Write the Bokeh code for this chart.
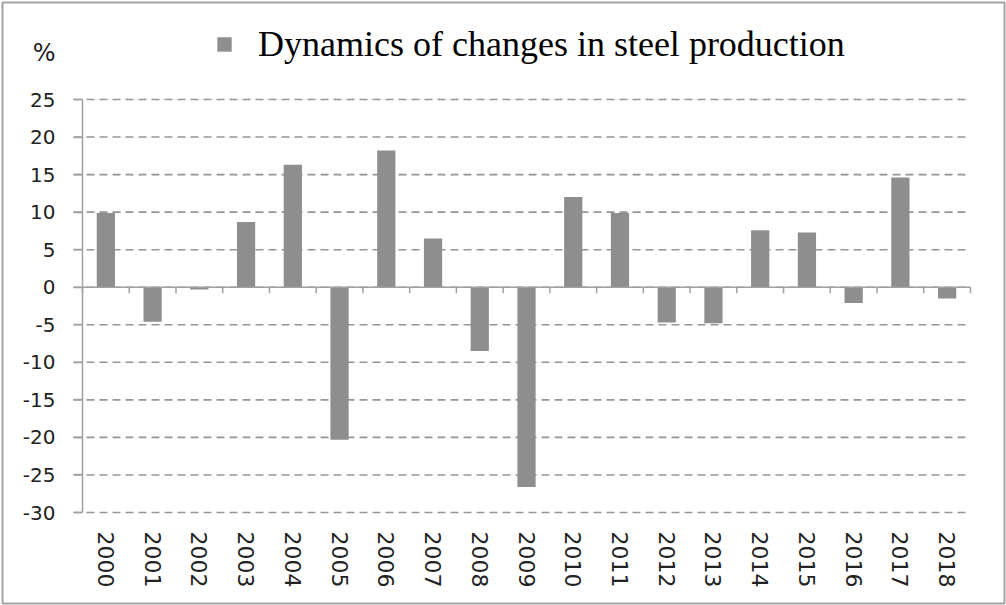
from bokeh.plotting import figure
from bokeh.models import (Range1d, FixedTicker, Label, Legend, LegendItem,
                          ColumnDataSource)
from bokeh.embed import file_html
from bokeh.resources import INLINE

years = ["2000", "2001", "2002", "2003", "2004", "2005", "2006", "2007", "2008", "2009",
         "2010", "2011", "2012", "2013", "2014", "2015", "2016", "2017", "2018"]
changes = [9.9, -4.6, -0.3, 8.7, 16.3, -20.3, 18.2, 6.5, -8.5, -26.6,
           12.0, 9.9, -4.7, -4.8, 7.6, 7.3, -2.1, 14.6, -1.5]
y_ticks = [-30, -25, -20, -15, -10, -5, 0, 5, 10, 15, 20, 25]
series_name = "Dynamics of changes in steel production"
unit_label = "%"

# ---- layout (pixels) ----
W, H, B = 1006, 605, 2                      # canvas and outer border inset
AX_LEFT, AX_RIGHT, AX_TOP, AX_BOTTOM = 82, 970, 99, 512

n = len(years)
xs = list(range(n))
ymin, ymax = y_ticks[0], y_ticks[-1]
px_x = (AX_RIGHT - AX_LEFT) / n
px_y = (AX_BOTTOM - AX_TOP) / (ymax - ymin)
x_lo, x_hi = -0.5, n - 0.5

src = ColumnDataSource(dict(x=xs, top=changes, year=years))

p = figure(width=W, height=H, output_backend="svg", toolbar_location=None,
           x_range=Range1d(x_lo - (AX_LEFT - B) / px_x, x_hi + (W - B - AX_RIGHT) / px_x),
           y_range=Range1d(ymin - (H - B - AX_BOTTOM) / px_y, ymax + (AX_TOP - B) / px_y),
           min_border_left=B, min_border_right=B, min_border_top=B,
           min_border_bottom=B)
p.outline_line_color = "#a3a3a3"
p.outline_line_width = 2
p.xgrid.visible = False
p.ygrid.visible = False

# dashed horizontal grid lines over the plotting area
p.segment(x0=[x_lo - 9 / px_x] * len(y_ticks), x1=[x_hi] * len(y_ticks),
          y0=y_ticks, y1=y_ticks, line_color="#969696", line_width=1.6,
          line_dash="8 5")

# bars
r = p.vbar(x="x", top="top", bottom=0, width=0.39, source=src,
           fill_color="#8e8e8e", line_color=None)

# zero (category) line with boundary ticks
bounds = [i - 0.5 for i in range(n + 1)]
p.segment(x0=[x_lo], x1=[x_hi], y0=[0], y1=[0], line_color="#a0a0a0", line_width=1.5)
p.segment(x0=bounds, y0=[0] * len(bounds), x1=bounds, y1=[-6 / px_y] * len(bounds),
          line_color="#a0a0a0", line_width=1.5)

# y axis, drawn at the left edge of the plotting area
ya = p.yaxis[0]
ya.fixed_location = x_lo
ya.bounds = (ymin, ymax)
ya.ticker = FixedTicker(ticks=y_ticks)
ya.major_label_overrides = {t: str(t) for t in y_ticks}
ya.axis_line_color = "#a0a0a0"
ya.axis_line_width = 1.5
ya.major_tick_line_color = "#a0a0a0"
ya.major_tick_line_width = 1.5
ya.major_tick_out = 9
ya.major_tick_in = 0
ya.minor_tick_out = 0
ya.minor_tick_in = 0
ya.major_label_standoff = 18
ya.major_label_text_font = "DejaVu Sans"
ya.major_label_text_font_size = "20px"
ya.major_label_text_color = "#222222"

# x axis, drawn at the bottom of the plotting area
xa = p.xaxis[0]
xa.fixed_location = ymin
xa.ticker = FixedTicker(ticks=xs)
xa.major_label_overrides = {i: y for i, y in enumerate(years)}
xa.major_label_orientation = "vertical"
xa.axis_line_color = None
xa.major_tick_line_color = None
xa.minor_tick_line_color = None
xa.major_label_standoff = 13
xa.major_label_text_font = "DejaVu Sans"
xa.major_label_text_font_size = "22px"
xa.major_label_text_color = "#222222"

# "%" unit label, right-aligned with the tick labels
p.add_layout(Label(x=x_lo - 27 / px_x, y=ymax + (AX_TOP - 52) / px_y, text=unit_label,
                   text_baseline="middle", text_align="right",
                   text_font="DejaVu Sans", text_font_size="24px",
                   text_color="#222222"))

# legend
legend = Legend(items=[LegendItem(label=series_name, renderers=[r])],
                location=(215 - B, H - B - 65), orientation="horizontal",
                glyph_width=18, glyph_height=18, label_standoff=25,
                padding=0, margin=0, border_line_color=None,
                background_fill_alpha=0,
                label_text_font="Liberation Serif", label_text_font_size="36px",
                label_text_color="#000000")
p.add_layout(legend, "center")

open("out.html", "w").write(file_html(p, INLINE))
